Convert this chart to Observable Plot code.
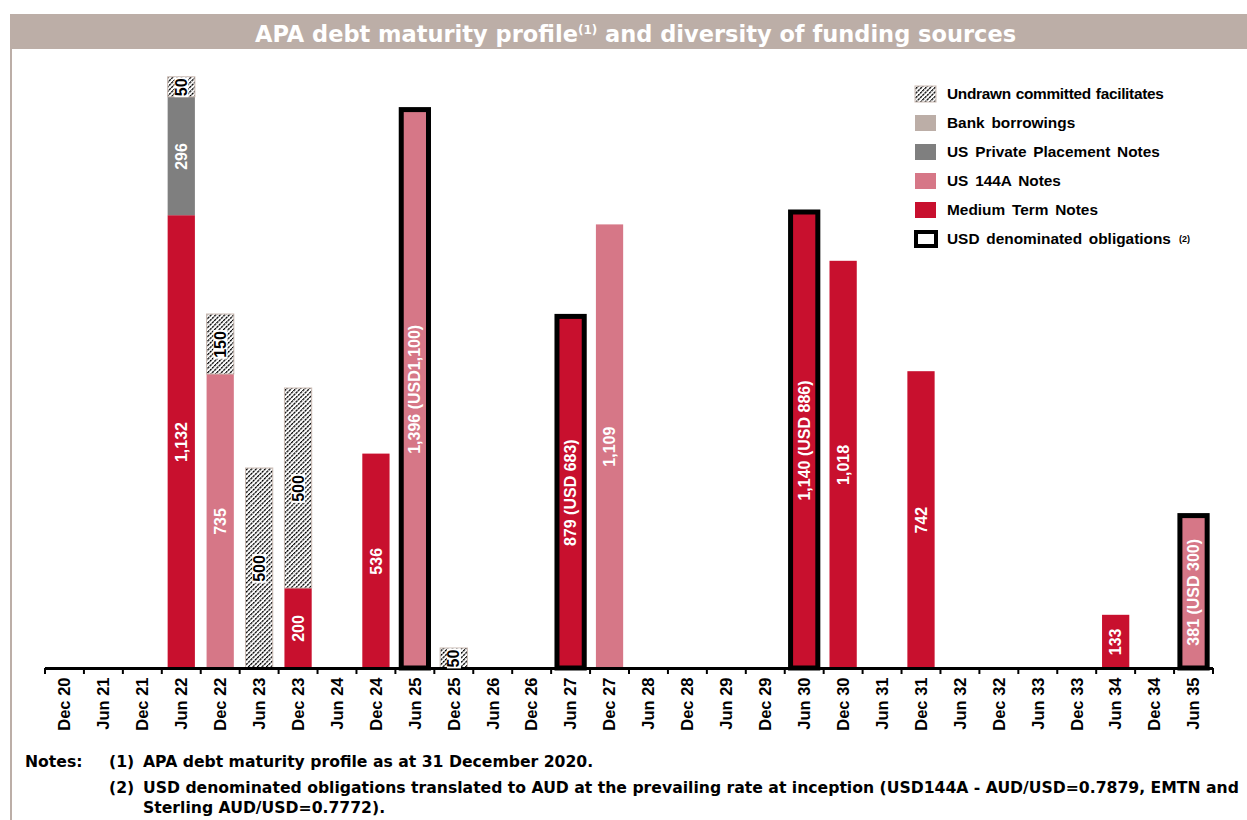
<!DOCTYPE html>
<html>
<head>
<meta charset="utf-8">
<script src="https://cdn.jsdelivr.net/npm/d3@7"></script>
<script src="https://cdn.jsdelivr.net/npm/@observablehq/plot@0.6"></script>
<style>
  html, body { margin: 0; padding: 0; background: #fff; }
  body { width: 1247px; height: 820px; position: relative; overflow: hidden; font-family: "Liberation Sans", Arial, sans-serif; }
  #titlebar { position: absolute; left: 10px; top: 14px; width: 1237px; height: 35px; background: #bcaea7; color: #fff;
    font-family: "DejaVu Sans", sans-serif; font-weight: bold; font-size: 22.5px; text-align: center; line-height: 35px; }
  #titlebar span { position: relative; top: 3px; left: 7px; }
  #titlebar sup { font-size: 12px; vertical-align: 8px; line-height: 0; }
  #leftline { position: absolute; left: 10px; top: 49px; width: 2px; height: 771px; background: #bcaea7; }
  #chart { position: absolute; left: 0; top: 50px; }
  #legend { position: absolute; left: 914px; top: 79px; }
  .item { display: flex; align-items: center; height: 29px; font-weight: bold; font-size: 15.4px; word-spacing: 2.5px; color: #000; white-space: nowrap; }
  .item svg { margin-right: 9px; }
  .item sup { font-size: 9px; vertical-align: 6px; line-height: 0; margin-left: 8px; }
  .note { position: absolute; font-family: "DejaVu Sans", sans-serif; font-weight: bold; font-size: 15.65px; color: #000; white-space: nowrap; line-height: 20px; }
</style>
</head>
<body>
<svg width="0" height="0" style="position:absolute">
  <defs>
    <pattern id="hatch" width="3.2" height="3.2" patternUnits="userSpaceOnUse" patternTransform="rotate(45)">
      <rect width="3.2" height="3.2" fill="#fff"></rect>
      <line x1="0.6" y1="0" x2="0.6" y2="3.2" stroke="#000" stroke-width="1.3" stroke-dasharray="1.8,0.6"></line>
    </pattern>
  </defs>
</svg>
<div id="titlebar"><span>APA debt maturity profile<sup>(1)</sup> and diversity of funding sources</span></div>
<div id="leftline"></div>
<div id="chart"></div>
<div id="legend"></div>
<div class="note" style="left:25px;top:752px">Notes:</div>
<div class="note" style="left:109px;top:752px">(1)</div>
<div class="note" style="left:143px;top:752px">APA debt maturity profile as at 31 December 2020.</div>
<div class="note" style="left:109px;top:778px">(2)</div>
<div class="note" style="left:143px;top:778px">USD denominated obligations translated to AUD at the prevailing rate at inception (USD144A - AUD/USD=0.7879, EMTN and<br>Sterling AUD/USD=0.7772).</div>
<script>
// ---------- DATA ----------
const periods = ["Dec 20","Jun 21","Dec 21","Jun 22","Dec 22","Jun 23","Dec 23","Jun 24","Dec 24","Jun 25",
  "Dec 25","Jun 26","Dec 26","Jun 27","Dec 27","Jun 28","Dec 28","Jun 29","Dec 29","Jun 30",
  "Dec 30","Jun 31","Dec 31","Jun 32","Dec 32","Jun 33","Dec 33","Jun 34","Dec 34","Jun 35"];

const seriesNames = ["Medium Term Notes","US 144A Notes","US Private Placement Notes","Bank borrowings","Undrawn committed facilitates"];
const seriesColors = ["#c8102e","#d67787","#7f7f7f","#bcaea7","url(#hatch)"];
const legendOrder = ["Undrawn committed facilitates","Bank borrowings","US Private Placement Notes","US 144A Notes","Medium Term Notes"];

const mtnPeriods = ["Jun 22","Dec 23","Dec 24","Jun 27","Jun 30","Dec 30","Dec 31","Jun 34"];
const mtnValues  = [1132, 200, 536, 879, 1140, 1018, 742, 133];

const us144aPeriods = ["Dec 22","Jun 25","Dec 27","Jun 35"];
const us144aValues  = [735, 1396, 1109, 381];

const usppPeriods = ["Jun 22"];
const usppValues  = [296];

const bankPeriods = [];
const bankValues  = [];

const undrawnPeriods = ["Jun 22","Dec 22","Jun 23","Dec 23","Dec 25"];
const undrawnValues  = [50, 150, 500, 500, 50];

const usdPeriods = ["Jun 25","Jun 27","Jun 30","Jun 35"];
const usdNotes   = ["(USD1,100)","(USD 683)","(USD 886)","(USD 300)"];

// ---------- TABLE ----------
const seriesData = [
  [mtnPeriods, mtnValues],
  [us144aPeriods, us144aValues],
  [usppPeriods, usppValues],
  [bankPeriods, bankValues],
  [undrawnPeriods, undrawnValues]
];
const fmt = d3.format(",");
const cum = new Map();
const rows = [];
seriesData.forEach(([ps, vs], si) => {
  ps.forEach((p, i) => {
    const y1 = cum.get(p) || 0, y2 = y1 + vs[i];
    cum.set(p, y2);
    const ui = usdPeriods.indexOf(p);
    const label = fmt(vs[i]) + (ui >= 0 ? " " + usdNotes[ui] : "");
    rows.push({period: p, series: seriesNames[si], value: vs[i], y1, y2, label});
  });
});
const undrawn = seriesNames[4];
const usdRows = usdPeriods.map(p => ({period: p, y1: 0, y2: cum.get(p)}));

// ---------- CHART ----------
const plot = Plot.plot({
  width: 1247,
  height: 698,
  marginTop: 18,
  marginBottom: 80,
  marginLeft: 45,
  marginRight: 34,
  style: {fontFamily: "'Liberation Sans', Arial, sans-serif", fontSize: "16.5px", fontWeight: "bold", color: "#000", background: "transparent"},
  x: {domain: periods, round: false, paddingInner: 0.3, paddingOuter: 0.15, tickRotate: -90, tickSize: 0, tickPadding: 9, label: null},
  y: {domain: [0, 1500], axis: null},
  color: {type: "ordinal", domain: seriesNames, range: seriesColors},
  marks: [
    Plot.barY(rows, {x: "period", y1: "y1", y2: "y2", fill: "series"}),
    Plot.barY(rows.filter(d => d.series === undrawn), {x: "period", y1: "y1", y2: "y2", fill: "none", stroke: "#c9b9b1", strokeWidth: 1}),
    Plot.barY(usdRows, {x: "period", y1: "y1", y2: "y2", fill: "none", stroke: "#000", strokeWidth: 5}),
    Plot.ruleY([0], {stroke: "#000", strokeWidth: 3}),
    Plot.text(rows.filter(d => d.series !== undrawn), {x: "period", y: d => (d.y1 + d.y2) / 2, text: "label", rotate: -90, fill: "#fff", fontSize: 16, fontWeight: "bold"}),
    Plot.text(rows.filter(d => d.series === undrawn), {x: "period", y: d => (d.y1 + d.y2) / 2, text: "label", rotate: -90, fill: "#000", fontSize: 16, fontWeight: "bold"})
  ]
});
document.getElementById("chart").appendChild(plot);

// white boxes behind undrawn labels (last text mark group)
const textGroups = plot.querySelectorAll('g[aria-label="text"]');
const undrawnGroup = textGroups[textGroups.length - 1];
if (undrawnGroup) {
  undrawnGroup.querySelectorAll("text").forEach(function(el) {
    const bb = el.getBBox();
    const r = document.createElementNS("http://www.w3.org/2000/svg", "rect");
    r.setAttribute("x", bb.x - 1); r.setAttribute("y", bb.y + 1.5);
    r.setAttribute("width", bb.width + 2); r.setAttribute("height", bb.height - 3);
    r.setAttribute("fill", "#fff");
    const t = el.getAttribute("transform"); if (t) r.setAttribute("transform", t);
    el.parentNode.insertBefore(r, el);
  });
}

// tick marks at category boundaries, from the x scale
const xs = plot.scale("x");
const step = xs.step || xs.bandwidth / (1 - 0.3);
const y0 = plot.scale("y").apply(0);
const edges = periods.map(p => xs.apply(p) + xs.bandwidth / 2 - step / 2);
edges.push(edges[edges.length - 1] + step);
d3.select(plot).append("g").selectAll("line").data(edges).join("line")
  .attr("x1", d => d).attr("x2", d => d).attr("y1", y0).attr("y2", y0 + 6)
  .attr("stroke", "#000").attr("stroke-width", 2);

// ---------- LEGEND ----------
const legend = d3.select("#legend");
legendOrder.forEach(name => {
  const item = legend.append("div").attr("class", "item");
  const s = item.append("svg").attr("width", 24).attr("height", 18);
  s.append("rect").attr("x", 1).attr("y", 1).attr("width", 21).attr("height", 16)
    .attr("fill", seriesColors[seriesNames.indexOf(name)])
    .attr("stroke", name === undrawn ? "#c9b9b1" : "none");
  const sp = item.append("span").text(name);
  if (name === undrawn) sp.style("word-spacing", "1px").style("letter-spacing", "-0.3px");
});
const usdItem = legend.append("div").attr("class", "item");
usdItem.append("svg").attr("width", 24).attr("height", 18)
  .append("rect").attr("x", 2).attr("y", 2).attr("width", 20).attr("height", 14)
  .attr("fill", "#fff").attr("stroke", "#000").attr("stroke-width", 4);
usdItem.append("span").text("USD denominated obligations");
usdItem.append("sup").text("(2)");
</script>
</body>
</html>
